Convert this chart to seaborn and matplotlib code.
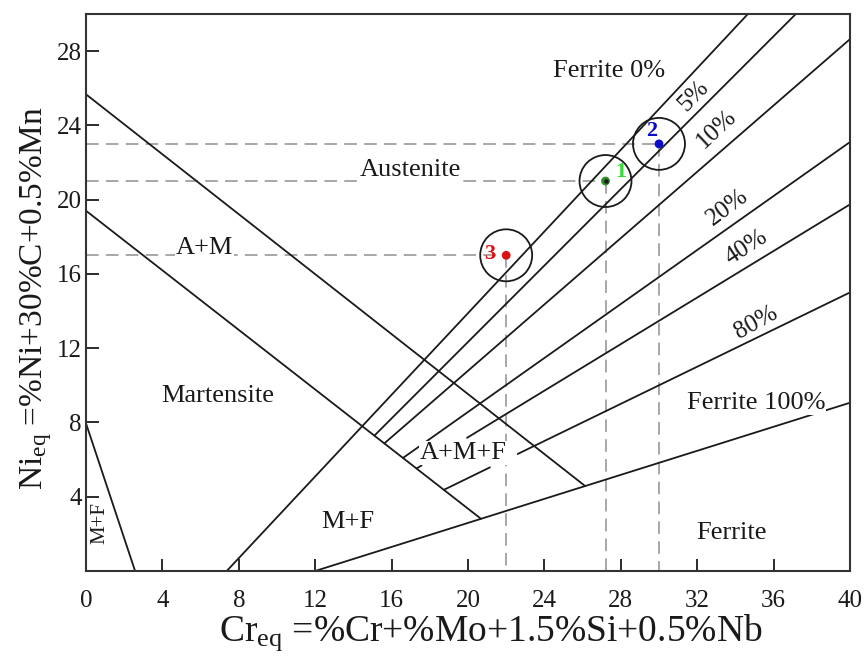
import numpy as np
import pandas as pd
import matplotlib.pyplot as plt
import seaborn as sns

# ---------------- DADOS (lidos do diagrama) ----------------
# linhas de fronteira do diagrama de Schaeffler: (x0, y0) -> (x1, y1)
linha_nomes = ['A/A+M', 'A+M/M', 'F100', 'M+F canto', 'F0', 'F5', 'F10', 'F20',
               'F40a', 'F40b', 'F80a', 'F80b']
linha_x0 = [0.0, 0.0, 12.0, 0.0, 7.37, 15.10, 15.62, 16.60, 17.31, 19.95, 18.74, 22.60]
linha_y0 = [25.67, 19.40, 0.0, 7.95, 0.0, 7.29, 6.87, 6.09, 5.52, 7.17, 4.37, 6.30]
linha_x1 = [26.14, 20.68, 40.0, 2.57, 34.66, 37.17, 40.0, 40.0, 17.57, 40.0, 21.15, 40.0]
linha_y1 = [4.57, 2.81, 9.06, 0.0, 30.0, 30.0, 28.64, 23.10, 5.68, 19.74, 5.58, 15.00]

# pontos das amostras
amostras = ['1', '2', '3']
cr_eq = [27.2, 30.0, 22.0]
ni_eq = [21.0, 23.0, 17.0]
cor_ponto = ['#2e8b2e', '#0a0acc', '#dd1111']
cor_rotulo = ['#33dd33', '#0a0acc', '#dd1111']

# rótulos das regiões
regioes = ['Ferrite 0%', 'Austenite', 'A+M', 'Martensite', 'A+M+F', 'M+F',
           'Ferrite', 'Ferrite 100%']
regiao_x = [27.4, 17.0, 6.2, 6.9, 19.75, 13.7, 33.8, 35.1]
regiao_y = [26.9, 21.6, 17.4, 9.4, 6.36, 2.64, 2.05, 9.06]

# rótulos de porcentagem de ferrita
pct = ['5%', '10%', '20%', '40%', '80%']
pct_x = [31.8, 33.0, 33.6, 34.6, 35.1]
pct_y = [25.6, 23.8, 19.6, 17.4, 13.4]
pct_rot = [46, 43, 37, 33, 29]

xticks = list(range(0, 41, 4))
yticks = list(range(4, 29, 4))

# ---------------- ESTILO ----------------
sns.set_theme(style='ticks')
plt.rcParams['font.family'] = ['Liberation Serif', 'DejaVu Serif']
plt.rcParams['mathtext.fontset'] = 'custom'
plt.rcParams['mathtext.rm'] = 'Liberation Serif'
plt.rcParams['mathtext.it'] = 'Liberation Serif:italic'

fig, ax = plt.subplots(figsize=(8.66, 6.62), dpi=100)
fig.subplots_adjust(left=0.0993, right=0.9815, bottom=0.1375, top=0.979)

# ---------------- LINHAS GUIA TRACEJADAS ----------------
for x, y in zip(cr_eq, ni_eq):
    ax.plot([0, x], [y, y], color='#a0a0a0', lw=1.3, dashes=(7, 4), zorder=1)
    ax.plot([x, x], [y, 0], color='#a0a0a0', lw=1.3, dashes=(7, 4), zorder=1)

# ---------------- LINHAS DE FRONTEIRA ----------------
df = pd.DataFrame({
    'x': linha_x0 + linha_x1,
    'y': linha_y0 + linha_y1,
    'seg': linha_nomes + linha_nomes,
})
sns.lineplot(data=df, x='x', y='y', units='seg', estimator=None, sort=False,
             color='#1a1a1a', lw=1.3, ax=ax, zorder=2)

# ---------------- PONTOS E CÍRCULOS ----------------
sns.scatterplot(x=cr_eq, y=ni_eq, s=1400, marker='o', facecolors='none',
                edgecolors='#1a1a1a', linewidth=1.3, ax=ax, zorder=3)
sns.scatterplot(x=cr_eq, y=ni_eq, hue=amostras, palette=cor_ponto, s=40,
                linewidth=0, legend=False, ax=ax, zorder=4)
ax.scatter(cr_eq[0], ni_eq[0], s=5, color='k', zorder=5)

desloc = [(0.8, 0.5), (-0.4, 0.7), (-0.85, 0.05)]
for i, nome in enumerate(amostras):
    ax.text(cr_eq[i] + desloc[i][0], ni_eq[i] + desloc[i][1], nome,
            color=cor_rotulo[i], fontsize=16, fontweight='bold',
            ha='center', va='center', zorder=6)

# ---------------- TEXTOS ----------------
for t, x, y in zip(regioes, regiao_x, regiao_y):
    ax.text(x, y, t, fontsize=19, ha='center', va='center', color='#1a1a1a',
            bbox=dict(facecolor='white', edgecolor='none', pad=0.5), zorder=6)
ax.text(0.73, 2.6, 'M+F', fontsize=15, rotation=90, ha='center', va='center',
        color='#1a1a1a', zorder=6)
for t, x, y, r in zip(pct, pct_x, pct_y, pct_rot):
    ax.text(x, y, t, fontsize=18, rotation=r, ha='center', va='center',
            color='#1a1a1a', zorder=6)

# ---------------- EIXOS ----------------
ax.set_xlim(0, 40)
ax.set_ylim(0, 30)
ax.set_xticks(xticks)
ax.set_yticks(yticks)
ax.tick_params(axis='both', direction='in', length=9, width=1.3,
               labelsize=18, colors='#1a1a1a')
ax.tick_params(axis='x', pad=14)
ax.tick_params(axis='y', pad=3)
for s in ax.spines.values():
    s.set_linewidth(1.5)
    s.set_color('#333333')

ax.set_xlabel(r'Cr$_{\rm eq}$ =%Cr+%Mo+1.5%Si+0.5%Nb', fontsize=27,
              labelpad=0, color='#1a1a1a', x=0.53)
ax.set_ylabel(r'Ni$_{\rm eq}$ =%Ni+30%C+0.5%Mn', fontsize=24,
              labelpad=2, color='#1a1a1a', y=0.49)

plt.savefig('out.png', dpi=100)
